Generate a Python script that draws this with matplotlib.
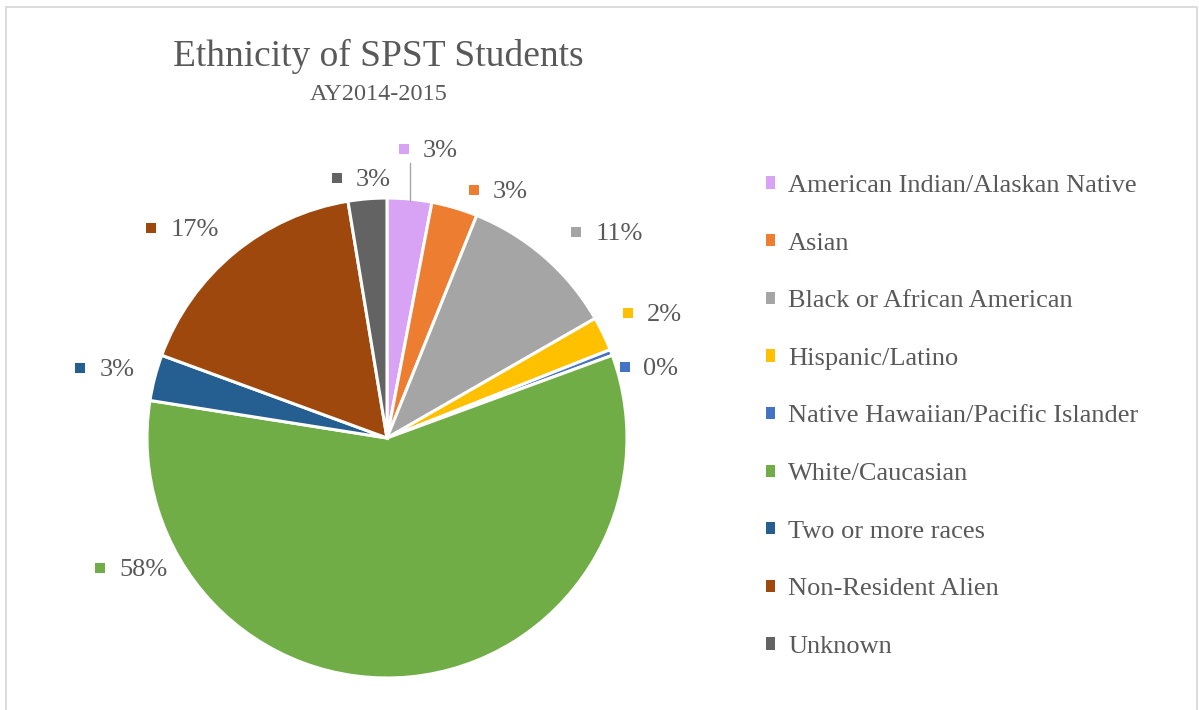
import matplotlib.pyplot as plt
from matplotlib.patches import Rectangle

plt.rcParams['font.family'] = ['Liberation Serif', 'DejaVu Serif']

# Enrollment share by ethnicity, AY2014-2015 (percent)
categories = [
    'American Indian/Alaskan Native',
    'Asian',
    'Black or African American',
    'Hispanic/Latino',
    'Native Hawaiian/Pacific Islander',
    'White/Caucasian',
    'Two or more races',
    'Non-Resident Alien',
    'Unknown',
]
shares = [3.0, 3.1, 10.6, 2.3, 0.4, 58.1, 3.1, 16.8, 2.6]
colors = ['#D9A3F5', '#ED7D31', '#A5A5A5', '#FFC000', '#4472C4',
          '#70AD47', '#255E91', '#9E480E', '#636363']

# data-label anchors (marker centre, text left edge, centre y), pixels from top-left
label_pos = [
    (404, 423, 149),
    (474, 493, 190),
    (576, 596, 232),
    (628, 647, 313),
    (625, 643, 367),
    (100, 119, 568),
    (80, 100, 368),
    (151, 171, 228),
    (337, 356, 178),
]

W, H = 1199, 710
TEXT = '#595959'

fig = plt.figure(figsize=(W / 100, H / 100), dpi=100)
ax = fig.add_axes([0, 0, 1, 1])

def py(y):
    return H - y

# chart frame
ax.add_patch(Rectangle((5.5, -20), 1191.5, py(6.5) + 20, fill=False,
                       edgecolor='#D9D9D9', linewidth=1.3))

wedges, _ = ax.pie(shares, colors=colors, startangle=90, counterclock=False,
                   center=(387, py(438)), radius=240, frame=True,
                   wedgeprops=dict(edgecolor='white', linewidth=2.2))
ax.set_xlim(0, W)
ax.set_ylim(0, H)
ax.set_aspect('equal')
ax.axis('off')

# data labels with coloured key squares
for val, col, (mx, tx, ty) in zip(shares, colors, label_pos):
    ax.scatter([mx], [py(ty)], marker='s', s=42, color=col, linewidths=0, zorder=5)
    ax.text(tx, py(ty + 2), f'{round(val)}%', fontsize=19, color=TEXT,
            ha='left', va='center')

# leader line for the first slice
ax.plot([410, 410], [py(163), py(201)], color='#A6A6A6', linewidth=1)

ax.text(378, py(56), 'Ethnicity of SPST Students', fontsize=27, color=TEXT,
        ha='center', va='center')
ax.text(379, py(94), 'AY2014-2015', fontsize=17.5, color=TEXT,
        ha='center', va='center')

leg = ax.legend(wedges, categories, loc='upper left',
                bbox_to_anchor=(766, py(175)), bbox_transform=ax.transData,
                frameon=False, fontsize=19, labelcolor=TEXT,
                handlelength=0.34, handleheight=0.34, handletextpad=0.5,
                labelspacing=1.35, borderpad=0, borderaxespad=0)
for h in leg.legend_handles:
    h.set_linewidth(0)

fig.savefig('out.png', dpi=100)
